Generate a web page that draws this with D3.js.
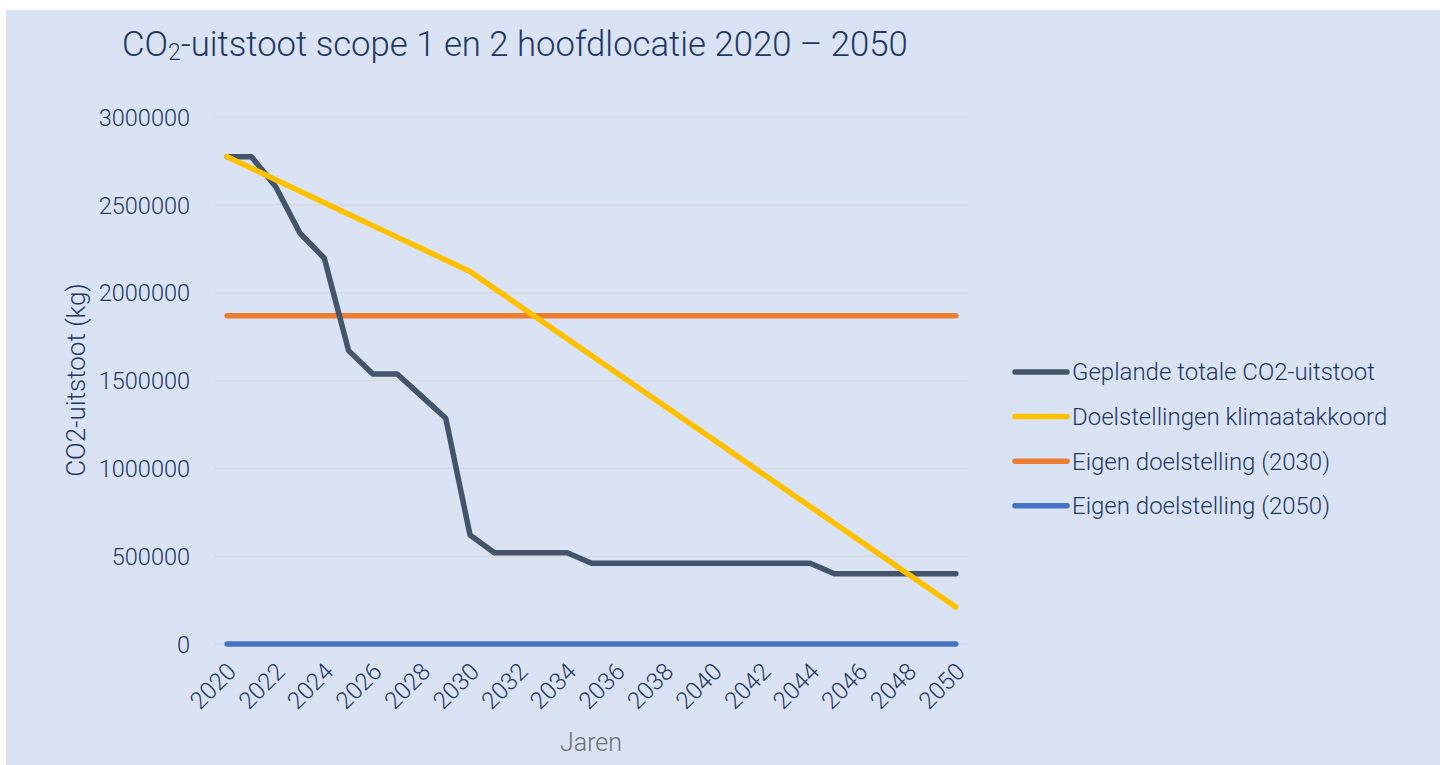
<!DOCTYPE html>
<html>
  <head>
    <meta charset="utf-8" />
    <script src="https://d3js.org/d3.v7.min.js"></script>
    <style>
      body {
        margin: 0;
        background: #ffffff;
      }
      text {
        font-family: Roboto, "Noto Sans", sans-serif;
        font-weight: 300;
      }
    </style>
  </head>
  <body>

    <svg id="chart"></svg>

    <script>
      var years = d3.range(2020, 2051);
      var yTicks = [0, 500000, 1000000, 1500000, 2000000, 2500000, 3000000];

      var seriesNames = [
        "Geplande totale CO2-uitstoot",
        "Doelstellingen klimaatakkoord",
        "Eigen doelstelling (2030)",
        "Eigen doelstelling (2050)"
      ];
      var seriesColors = ["#44546a", "#ffc000", "#ed7d31", "#4472c4"];

      var gepland = [
        2774000, 2774000, 2603000, 2338000, 2196000, 1670000, 1537000, 1537000,
        1411000, 1285000, 620000, 520000, 520000, 520000, 520000, 460000,
        460000, 460000, 460000, 460000, 460000, 460000, 460000, 460000,
        460000, 400000, 400000, 400000, 400000, 400000, 400000
      ];
      var klimaat = [
        2774000, 2708600, 2643200, 2577800, 2512400, 2447000, 2381600, 2316200,
        2250800, 2185400, 2120000, 2024500, 1929000, 1833500, 1738000, 1642500,
        1547000, 1451500, 1356000, 1260500, 1165000, 1069500, 974000, 878500,
        783000, 687500, 592000, 496500, 401000, 305500, 210000
      ];
      var eigen2030 = [
        1868000, 1868000, 1868000, 1868000, 1868000, 1868000, 1868000, 1868000,
        1868000, 1868000, 1868000, 1868000, 1868000, 1868000, 1868000, 1868000,
        1868000, 1868000, 1868000, 1868000, 1868000, 1868000, 1868000, 1868000,
        1868000, 1868000, 1868000, 1868000, 1868000, 1868000, 1868000
      ];
      var eigen2050 = [
        0, 0, 0, 0, 0, 0, 0, 0, 0, 0, 0, 0, 0, 0, 0, 0,
        0, 0, 0, 0, 0, 0, 0, 0, 0, 0, 0, 0, 0, 0, 0
      ];

      var allSeries = [gepland, klimaat, eigen2030, eigen2050];

      var width = 1446;
      var height = 765;
      var textColor = "#1f3864";

      var svg = d3.select("#chart")
          .attr("width", width)
          .attr("height", height);

      svg.append("rect")
          .attr("x", 6)
          .attr("y", 10)
          .attr("width", 1434)
          .attr("height", 755)
          .attr("fill", "#dae3f3");

      var plot = { left: 215, right: 968, top: 117, bottom: 644 };

      var x = d3.scalePoint()
          .domain(years)
          .range([plot.left, plot.right])
          .padding(0.5);

      var y = d3.scaleLinear()
          .domain([0, 3000000])
          .range([plot.bottom, plot.top]);

      // gridlines
      svg.append("g")
          .selectAll("line")
          .data(yTicks)
          .enter().append("line")
          .attr("x1", plot.left)
          .attr("x2", plot.right)
          .attr("y1", function(d) { return y(d); })
          .attr("y2", function(d) { return y(d); })
          .attr("stroke", "#d6d9de")
          .attr("stroke-width", 1.5);

      // y axis
      var yAxis = svg.append("g")
          .attr("transform", "translate(" + (plot.left - 22) + ",0)")
          .call(d3.axisLeft(y).tickValues(yTicks).tickFormat(d3.format("d")).tickSize(0));
      yAxis.select(".domain").remove();
      yAxis.selectAll("text")
          .attr("fill", textColor)
          .style("font-size", "23.5px")
          .attr("dy", "0.35em");

      // x axis
      var xAxis = svg.append("g")
          .attr("transform", "translate(0," + plot.bottom + ")")
          .call(d3.axisBottom(x).tickValues(years.filter(function(d) { return d % 2 === 0; })).tickSize(0));
      xAxis.select(".domain").remove();
      xAxis.selectAll("text")
          .attr("fill", textColor)
          .style("font-size", "24px")
          .attr("text-anchor", "end")
          .attr("dy", "0.35em")
          .attr("transform", "translate(2,21) rotate(-45)");

      // lines
      var line = d3.line()
          .x(function(d, i) { return x(years[i]); })
          .y(function(d) { return y(d); });

      var drawOrder = [3, 2, 0, 1];
      svg.append("g")
          .selectAll("path")
          .data(drawOrder)
          .enter().append("path")
          .attr("d", function(k) { return line(allSeries[k]); })
          .attr("fill", "none")
          .attr("stroke", function(k) { return seriesColors[k]; })
          .attr("stroke-width", 5.5)
          .attr("stroke-linecap", "round")
          .attr("stroke-linejoin", "round");

      // title
      var title = svg.append("text")
          .attr("x", 122)
          .attr("y", 56)
          .attr("fill", textColor)
          .style("font-size", "34.7px");
      title.append("tspan").text("CO");
      title.append("tspan").text("2").style("font-size", "23px").attr("dy", 4);
      title.append("tspan").text("-uitstoot scope 1 en 2 hoofdlocatie 2020 \u2013 2050").attr("dy", -4);

      // axis titles
      svg.append("text")
          .attr("transform", "translate(85,380) rotate(-90)")
          .attr("text-anchor", "middle")
          .attr("fill", textColor)
          .style("font-size", "26px")
          .text("CO2-uitstoot (kg)");

      svg.append("text")
          .attr("x", 591)
          .attr("y", 751)
          .attr("text-anchor", "middle")
          .attr("fill", "#6f6f6f")
          .style("font-size", "25px")
          .text("Jaren");

      // legend
      var legend = svg.append("g")
          .selectAll("g")
          .data(seriesNames)
          .enter().append("g")
          .attr("transform", function(d, i) { return "translate(1015," + (372 + i * 44.6) + ")"; });

      legend.append("line")
          .attr("x1", 0)
          .attr("x2", 52)
          .attr("stroke", function(d, i) { return seriesColors[i]; })
          .attr("stroke-width", 5.5)
          .attr("stroke-linecap", "round");

      legend.append("text")
          .attr("x", 57)
          .attr("dy", "0.35em")
          .attr("fill", textColor)
          .style("font-size", "24px")
          .text(function(d) { return d; });
    </script>

  </body>
</html>
